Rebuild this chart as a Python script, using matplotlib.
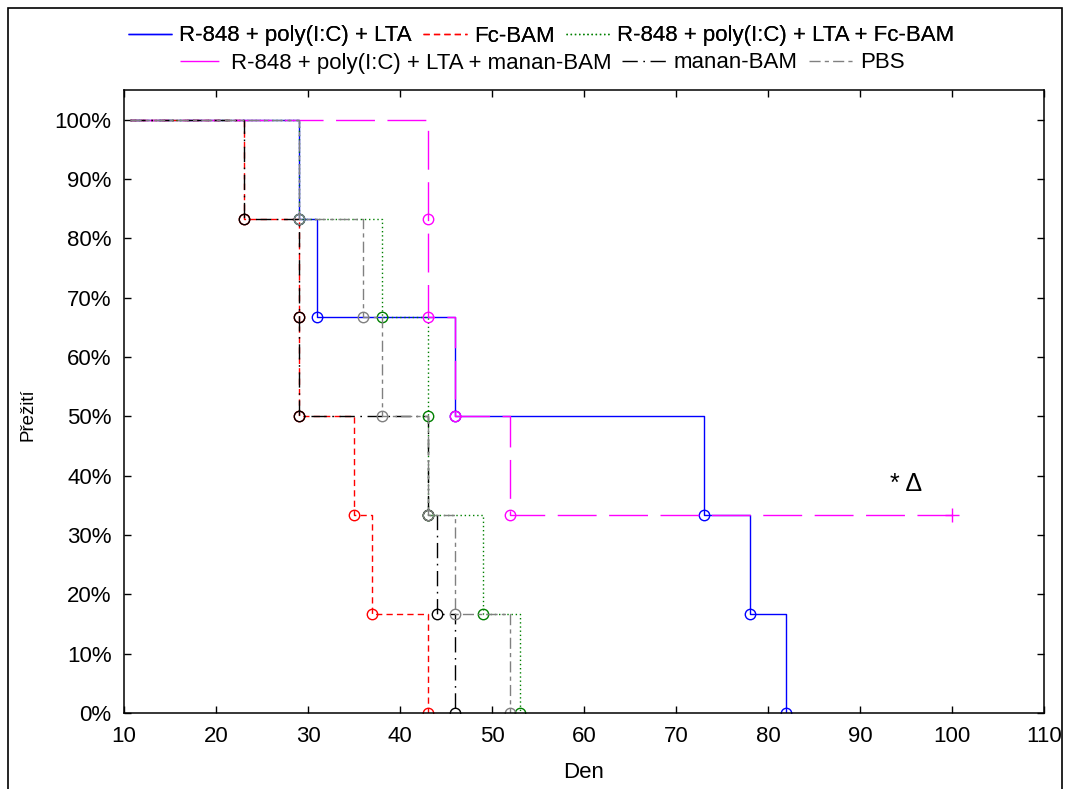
import matplotlib
matplotlib.use("Agg")
import matplotlib.pyplot as plt
from matplotlib.patches import Rectangle

plt.rcParams['font.family'] = ['Liberation Sans', 'DejaVu Sans']
plt.rcParams['lines.scale_dashes'] = False

# Kaplan-Meier data: event days and survival (%) after each event
labels = ['R-848 + poly(I:C) + LTA', 'Fc-BAM', 'R-848 + poly(I:C) + LTA + Fc-BAM',
          'R-848 + poly(I:C) + LTA + manan-BAM', 'manan-BAM', 'PBS']

start_day = 10.7
blue_t = [29, 31, 46, 73, 78, 82]
blue_s = [83.3, 66.7, 50, 33.3, 16.7, 0]
red_t = [23, 29, 29, 35, 37, 43]
red_s = [83.3, 66.7, 50, 33.3, 16.7, 0]
green_t = [29, 38, 43, 43, 49, 53]
green_s = [83.3, 66.7, 50, 33.3, 16.7, 0]
magenta_t = [43, 43, 46, 52]
magenta_s = [83.3, 66.7, 50, 33.3]
black_t = [23, 29, 29, 43, 44, 46]
black_s = [83.3, 66.7, 50, 33.3, 16.7, 0]
gray_t = [29, 36, 38, 43, 46, 52]
gray_s = [83.3, 66.7, 50, 33.3, 16.7, 0]

# censored observation (manan-BAM combination survivors)
censor_t = [100]
censor_s = [33.3]

series = [
    (blue_t, blue_s, '#0000ff', (0, ())),
    (red_t, red_s, '#ff0000', (0, (4.5, 3))),
    (green_t, green_s, '#008000', (0, (1, 2))),
    (magenta_t, magenta_s, '#ff00ff', (0, (28, 9))),
    (black_t, black_s, '#000000', (0, (11, 4, 1.2, 4))),
    (gray_t, gray_s, '#808080', (0, (8, 3, 3, 3))),
]

fig = plt.figure(figsize=(10.65, 7.89), dpi=100)
ax = fig.add_axes([124 / 1065, 1 - 713 / 789, 920 / 1065, 623 / 789])

handles = []
for (t, s, col, ls), lab in zip(series, labels):
    xs = [start_day] + t
    ys = [100] + s
    if col == '#ff00ff':
        xs = xs + censor_t
        ys = ys + censor_s
    line, = ax.step(xs, ys, where='post', color=col, lw=1.0, linestyle=ls, label=lab)
    ax.plot(t, s, linestyle='none', marker='o', ms=7.5, mfc='none', mec=col, mew=1.0)
    handles.append(line)
    if col == '#ff00ff':
        ax.plot(censor_t, censor_s, linestyle='none', marker='+', ms=10, mec=col, mew=1.0)

ax.text(93.3, 38.6, '* Δ', fontsize=18, ha='left', va='center')

ax.set_xlim(10, 110)
ax.set_ylim(0, 105)
ax.set_xticks(range(10, 111, 10))
ax.set_yticks(range(0, 101, 10))
ax.set_yticklabels([f'{v}%' for v in range(0, 101, 10)])
ax.tick_params(direction='in', top=True, right=True, length=5, width=1.0,
               labelsize=16, pad=9)
for sp in ax.spines.values():
    sp.set_linewidth(1.1)

fig.text(584 / 1065, 1 - 773 / 789, 'Den', fontsize=16, ha='center', va='center')
fig.text(28 / 1065, 1 - 415 / 789, 'Přežití', fontsize=13.5, ha='center', va='center',
         rotation=90)

leg_kw = dict(frameon=False, ncol=3, fontsize=16, handlelength=2.0,
              handletextpad=0.3, columnspacing=0.5, borderpad=0, borderaxespad=0)
leg1 = fig.legend(handles[:3], labels[:3], loc='center',
                  bbox_to_anchor=(541 / 1065, 1 - 36 / 789), **leg_kw)
fig.add_artist(leg1)
fig.legend(handles[3:], labels[3:], loc='center',
           bbox_to_anchor=(542 / 1065, 1 - 63 / 789), **leg_kw)

# outer frame around the whole figure
fig.add_artist(Rectangle((8 / 1065, -0.02), 1054 / 1065, 1 - 8 / 789 + 0.02,
                         transform=fig.transFigure, fill=False, lw=1.2, ec='black'))

fig.savefig('out.png', dpi=100)
